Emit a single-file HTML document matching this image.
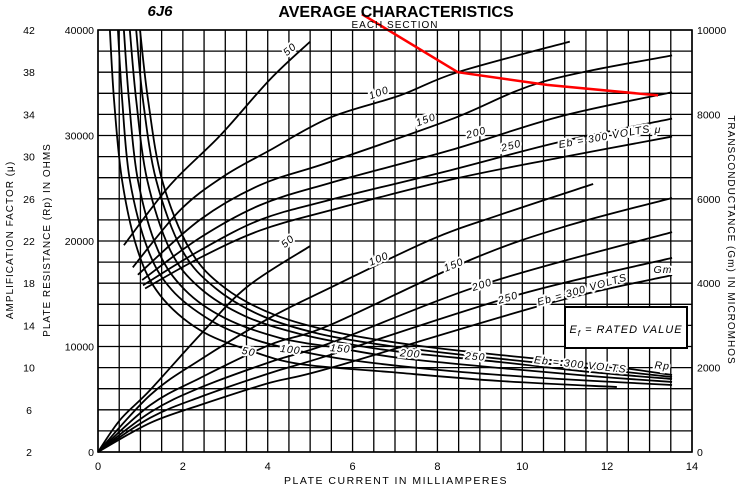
<!DOCTYPE html>
<html><head><meta charset="utf-8"><style>
body{margin:0;background:#fff;}
svg{display:block;font-family:"Liberation Sans",sans-serif;}
</style></head><body>
<svg id="chart" width="738" height="488" viewBox="0 0 738 488">
<g id="grid"></g>
<g id="curves"></g>
<g id="labels"></g>
<text x="160" y="16" font-size="15" font-style="italic" font-weight="bold" text-anchor="middle">6J6</text>
<text x="396" y="17" font-size="16" font-weight="bold" text-anchor="middle">AVERAGE CHARACTERISTICS</text>
<text x="395" y="28" font-size="10" text-anchor="middle" letter-spacing="1">EACH SECTION</text>
<text x="396" y="484" font-size="10.5" text-anchor="middle" letter-spacing="1.5">PLATE CURRENT IN MILLIAMPERES</text>
<text transform="translate(13,240) rotate(-90)" font-size="10" text-anchor="middle" letter-spacing="1">AMPLIFICATION FACTOR (μ)</text>
<text transform="translate(50,240) rotate(-90)" font-size="10" text-anchor="middle" letter-spacing="1">PLATE RESISTANCE (Rp) IN OHMS</text>
<text transform="translate(728,240) rotate(90)" font-size="10" text-anchor="middle" letter-spacing="1">TRANSCONDUCTANCE (Gm) IN MICROMHOS</text>
<g>
<rect x="565" y="307" width="122" height="41" fill="#fff" stroke="#000" stroke-width="2"/>
<text x="626" y="333" font-size="11" font-style="italic" text-anchor="middle" letter-spacing="1">E<tspan font-size="8" dy="3">f</tspan><tspan dy="-3"> = RATED VALUE</tspan></text>
</g>
</svg>
<script>
// ---- data ----
const xTicks=[0,2,4,6,8,10,12,14];
const rpTicks=[0,10000,20000,30000,40000];
const muTicks=[2,6,10,14,18,22,26,30,34,38,42];
const gmTicks=[0,2000,4000,6000,8000,10000];
const voltages=[50,100,150,200,250,300];
// amplification factor curves (I mA, mu)
const muI50=[0.61,1.70,2.88,4.05,5.00], muV50=[21.6,27.3,32.0,37.3,40.9];
const muI100=[0.82,1.93,2.95,4.05,5.47,7.12,8.48,11.12], muV100=[19.5,24.9,28.1,30.6,33.7,35.8,38.0,40.9];
const muI150=[0.94,2.40,3.82,5.47,8.30,10.49,13.53], muV150=[18.8,24.0,27.3,29.5,33.5,37.1,39.6];
const muI200=[1.04,2.40,3.82,5.47,8.30,10.89,13.53], muV200=[18.3,22.3,25.4,27.5,30.6,33.8,36.1];
const muI250=[1.06,2.40,3.82,5.47,8.30,10.89,13.53], muV250=[17.8,21.1,24.0,25.9,28.7,31.4,33.6];
const muI300=[1.11,2.40,3.82,5.47,8.30,10.89,13.53], muV300=[17.5,20.4,23.0,24.9,27.8,29.9,31.9];
// transconductance curves (I mA, gm micromhos)
const gmI50=[0,0.52,1.23,2.40,3.51,5.00], gmV50=[0,760,1470,2770,3910,4880];
const gmI100=[0,1.23,2.40,4.05,5.47,7.82,9.47,11.67], gmV100=[0,1350,2180,3180,3890,5020,5620,6350];
const gmI150=[0,1.23,2.40,4.05,5.47,8.77,10.96,13.53], gmV150=[0,1110,1750,2540,3010,4550,5330,6020];
const gmI200=[0,1.23,2.40,4.05,5.47,9.17,13.53], gmV200=[0,940,1520,2130,2580,4000,5210];
const gmI250=[0,1.23,2.40,4.05,5.47,9.88,13.53], gmV250=[0,810,1300,1870,2300,3720,4600];
const gmI300=[0,1.23,2.40,4.05,5.47,10.65,13.53], gmV300=[0,690,1110,1640,1990,3530,4190];
// plate resistance curves (I mA, Rp ohms)
const rpI50=[0.28,0.38,0.57,0.94,1.46,2.40,3.54,4.76,6.88,9.47,12.23], rpV50=[40000,33270,25690,19050,14880,11560,9670,8340,7580,6730,6160];
const rpI100=[0.47,0.57,0.75,1.18,1.74,2.64,3.58,4.53,5.94,8.30,10.89,13.53], rpV100=[40000,33370,25780,19150,15360,12510,10810,9760,8720,7680,6920,6350];
const rpI150=[0.61,0.73,0.94,1.41,2.05,2.99,4.29,5.66,7.12,9.47,11.60,13.53], rpV150=[40000,33370,25780,19150,15360,12700,10810,9860,8910,7960,7200,6640];
const rpI200=[0.75,0.90,1.16,1.70,2.40,3.46,4.76,6.17,7.35,9.47,11.60,13.53], rpV200=[40000,33370,25780,19150,15550,12890,11190,10050,9380,8530,7580,6920];
const rpI250=[0.90,1.06,1.37,1.98,2.76,3.87,5.23,6.88,8.84,11.12,13.53], rpV250=[40000,33370,25780,19150,15550,12890,11190,10050,9100,8150,7110];
const rpI300=[0.99,1.18,1.51,2.17,2.99,4.17,5.70,7.59,9.71,11.83,13.53], rpV300=[40000,33370,25780,19150,15550,12990,11280,10050,9100,8250,7300];
// red annotation (I mA, mu scale)
const redI=[6.22,8.48,10.58,13.20], redMu=[43.5,38.0,36.8,35.8];

// ---- scales ----
const X0=98,X1=692,Y0=452,Y1=30;
const sx=i=>X0+(i/14)*(X1-X0);
const sRp=v=>Y0-(v/40000)*(Y0-Y1);
const sMu=v=>Y0-((v-2)/40)*(Y0-Y1);
const sGm=v=>Y0-(v/10000)*(Y0-Y1);
const NS='http://www.w3.org/2000/svg';
function mk(tag,attrs,parent){const e=document.createElementNS(NS,tag);for(const k in attrs)e.setAttribute(k,attrs[k]);parent.appendChild(e);return e;}

const grid=document.getElementById('grid');
for(let k=0;k<=28;k++){const x=sx(k*0.5);
 const l=mk('line',{x1:x,y1:Y1,x2:x,y2:Y0,stroke:'#000','stroke-width':1.3},grid);
 
 }
for(let k=0;k<=20;k++){const y=sRp(k*2000);
 const l=mk('line',{x1:X0,y1:y,x2:X1,y2:y,stroke:'#000','stroke-width':1.3},grid);
 
 }
const lab=document.getElementById('labels');
xTicks.forEach(t=>{const e=mk('text',{x:sx(t),y:470,'font-size':11,'text-anchor':'middle'},lab);e.textContent=t;
 
 });
rpTicks.forEach(t=>{const e=mk('text',{x:94,y:sRp(t)+4,'font-size':10.5,'text-anchor':'end'},lab);e.textContent=t;
 
 });
muTicks.forEach(t=>{const e=mk('text',{x:29,y:sMu(t)+4,'font-size':10.5,'text-anchor':'middle'},lab);e.textContent=t;
 
 });
gmTicks.forEach(t=>{const e=mk('text',{x:697,y:sGm(t)+4,'font-size':10.5},lab);e.textContent=t;
 
 });

function smooth(p){if(p.length<3)return 'M'+p.map(q=>q.join(',')).join('L');
 let d='M'+p[0][0]+','+p[0][1];
 for(let i=0;i<p.length-1;i++){const a=p[i-1]||p[i],b=p[i],c=p[i+1],e=p[i+2]||c;
  const c1=[b[0]+(c[0]-a[0])/6,b[1]+(c[1]-a[1])/6],c2=[c[0]-(e[0]-b[0])/6,c[1]-(e[1]-b[1])/6];
  d+='C'+c1.join(',')+' '+c2.join(',')+' '+c.join(',');}
 return d;}
const cv=document.getElementById('curves');
function curve(I,V,sy,name){const p=I.map((v,i)=>[sx(v),sy(V[i])]);
 const e=mk('path',{d:smooth(p),fill:'none',stroke:'#000','stroke-width':1.8},cv);
 
 }
const muS=[[muI50,muV50],[muI100,muV100],[muI150,muV150],[muI200,muV200],[muI250,muV250],[muI300,muV300]];
const gmS=[[gmI50,gmV50],[gmI100,gmV100],[gmI150,gmV150],[gmI200,gmV200],[gmI250,gmV250],[gmI300,gmV300]];
const rpS=[[rpI50,rpV50],[rpI100,rpV100],[rpI150,rpV150],[rpI200,rpV200],[rpI250,rpV250],[rpI300,rpV300]];
voltages.forEach((v,i)=>{curve(muS[i][0],muS[i][1],sMu,'mu-curve-'+v);curve(gmS[i][0],gmS[i][1],sGm,'gm-curve-'+v);curve(rpS[i][0],rpS[i][1],sRp,'rp-curve-'+v);});
const red=mk('polyline',{points:redI.map((v,i)=>sx(v)+','+sMu(redMu[i])).join(' '),fill:'none',stroke:'#f00','stroke-width':2.5},cv);


mk('rect',{x:X0,y:Y1,width:X1-X0,height:Y0-Y1,fill:'none',stroke:'#000','stroke-width':1.6},cv);

const inl=[["50",292,52,-40],["100",380,96,-20],["150",427,123,-20],["200",477,136,-15],["250",512,149,-15],["Eb = 300 VOLTS",605,140,-10],["μ",658,133,0],
["50",290,244,-40],["100",380,262,-22],["150",455,268,-22],["200",483,288,-18],["250",509,301,-16],["Eb = 300 VOLTS",583,293,-16],["Gm",663,273,0],
["50",248,355,12],["100",290,353,6],["150",340,352,5],["200",410,357,4],["250",475,360,4],["Eb = 300 VOLTS",580,368,6],["Rp",662,369,5]];
inl.forEach(a=>{const e=mk('text',{x:a[1],y:a[2],'font-size':10.5,'font-style':'italic','text-anchor':'middle',transform:`rotate(${a[3]} ${a[1]} ${a[2]})`,stroke:'#fff','stroke-width':4,'paint-order':'stroke','letter-spacing':1},lab);e.textContent=a[0];
 
 });
</script>
</body></html>
